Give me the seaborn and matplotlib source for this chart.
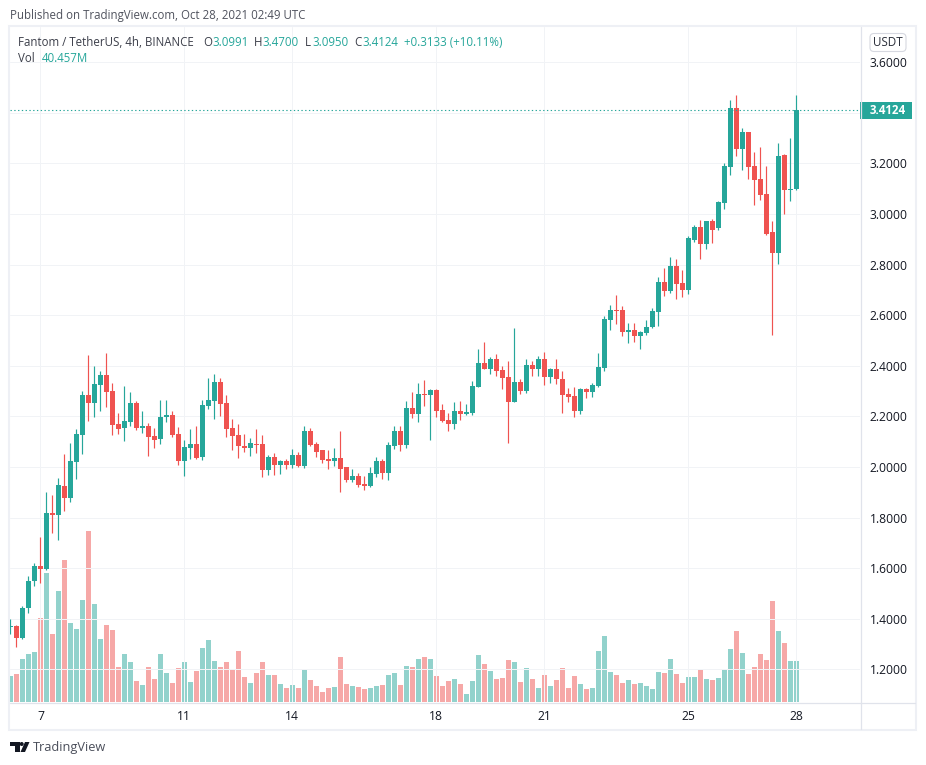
import matplotlib

matplotlib.use("Agg")
import matplotlib.pyplot as plt
import pandas as pd
import seaborn as sns
from matplotlib.patches import Circle, FancyBboxPatch, Polygon, Rectangle
from matplotlib.transforms import IdentityTransform


WIDTH = 926
HEIGHT = 765
UP = "#26a69a"
DOWN = "#ef5350"
TEXT = "#131722"
GRID = "#f1f3f6"
FRAME = "#e0e3eb"

opens = [
    1.368, 1.372, 1.322, 1.441, 1.548, 1.610, 1.598, 1.819, 1.811, 1.926, 1.876, 2.021,
    2.127, 2.285, 2.254, 2.325, 2.364, 2.301, 2.171, 2.155, 2.179, 2.254, 2.155, 2.163,
    2.123, 2.111, 2.198, 2.206, 2.131, 2.025, 2.076, 2.092, 2.040, 2.242, 2.262, 2.337,
    2.254, 2.155, 2.127, 2.084, 2.076, 2.092, 2.092, 1.989, 2.040, 2.009, 2.025, 2.009,
    2.048, 2.005, 2.143, 2.092, 2.068, 2.032, 2.025, 2.036, 2.001, 1.949, 1.965, 1.934,
    1.926, 1.973, 2.025, 1.977, 2.084, 2.143, 2.088, 2.234, 2.210, 2.289, 2.285, 2.305,
    2.226, 2.187, 2.171, 2.222, 2.210, 2.214, 2.317, 2.412, 2.388, 2.428, 2.384, 2.357,
    2.258, 2.337, 2.301, 2.404, 2.388, 2.428, 2.357, 2.388, 2.349, 2.289, 2.281, 2.222,
    2.309, 2.297, 2.321, 2.392, 2.582, 2.621, 2.621, 2.535, 2.543, 2.519, 2.531, 2.552,
    2.611, 2.733, 2.694, 2.793, 2.729, 2.698, 2.899, 2.947, 2.880, 2.974, 2.943, 3.042,
    3.188, 3.421, 3.259, 3.326, 3.192, 3.140, 3.081, 2.931, 2.848, 3.235, 3.095, 3.0991,
]
highs = [
    1.400, 1.376, 1.451, 1.570, 1.621, 1.725, 1.902, 1.890, 1.957, 2.052, 2.096, 2.151,
    2.301, 2.443, 2.400, 2.380, 2.451, 2.333, 2.214, 2.321, 2.297, 2.262, 2.222, 2.175,
    2.155, 2.266, 2.266, 2.222, 2.159, 2.108, 2.151, 2.163, 2.266, 2.353, 2.368, 2.353,
    2.285, 2.191, 2.171, 2.131, 2.115, 2.151, 2.127, 2.048, 2.056, 2.028, 2.032, 2.072,
    2.060, 2.163, 2.155, 2.100, 2.068, 2.068, 2.076, 2.143, 2.001, 1.993, 1.977, 1.965,
    2.001, 2.040, 2.032, 2.100, 2.163, 2.163, 2.262, 2.297, 2.333, 2.345, 2.309, 2.309,
    2.250, 2.214, 2.258, 2.262, 2.250, 2.341, 2.467, 2.495, 2.436, 2.447, 2.400, 2.420,
    2.550, 2.349, 2.428, 2.420, 2.440, 2.455, 2.392, 2.428, 2.380, 2.313, 2.317, 2.313,
    2.313, 2.333, 2.451, 2.598, 2.641, 2.681, 2.637, 2.570, 2.570, 2.539, 2.582, 2.627,
    2.753, 2.785, 2.832, 2.824, 2.777, 2.915, 2.955, 2.978, 2.974, 2.982, 3.053, 3.200,
    3.453, 3.472, 3.342, 3.326, 3.247, 3.267, 3.192, 2.974, 3.283, 3.239, 3.299, 3.4700,
]
lows = [
    1.341, 1.287, 1.318, 1.421, 1.528, 1.540, 1.594, 1.737, 1.710, 1.827, 1.860, 1.951,
    2.053, 2.180, 2.196, 2.223, 2.239, 2.125, 2.131, 2.104, 2.163, 2.147, 2.135, 2.044,
    2.076, 2.092, 2.179, 2.119, 2.009, 1.965, 2.032, 2.032, 2.028, 2.230, 2.191, 2.202,
    2.119, 2.068, 2.036, 2.060, 2.044, 2.056, 1.961, 1.969, 1.969, 1.973, 1.993, 1.997,
    2.001, 1.997, 2.084, 2.040, 2.017, 1.993, 2.005, 1.902, 1.942, 1.942, 1.922, 1.910,
    1.922, 1.961, 1.953, 1.949, 2.072, 2.064, 2.076, 2.194, 2.179, 2.242, 2.108, 2.198,
    2.179, 2.143, 2.151, 2.187, 2.206, 2.206, 2.317, 2.388, 2.368, 2.360, 2.309, 2.096,
    2.258, 2.289, 2.293, 2.360, 2.360, 2.325, 2.333, 2.329, 2.214, 2.258, 2.198, 2.210,
    2.274, 2.277, 2.317, 2.380, 2.541, 2.564, 2.519, 2.491, 2.495, 2.467, 2.523, 2.548,
    2.559, 2.678, 2.686, 2.666, 2.674, 2.682, 2.891, 2.824, 2.860, 2.884, 2.939, 3.022,
    3.156, 3.231, 3.176, 3.140, 3.034, 3.057, 2.919, 2.520, 2.804, 3.002, 3.053, 3.0950,
]
closes = [
    1.372, 1.322, 1.443, 1.550, 1.610, 1.598, 1.819, 1.811, 1.930, 1.876, 2.025, 2.131,
    2.285, 2.254, 2.329, 2.364, 2.297, 2.167, 2.151, 2.183, 2.254, 2.155, 2.163, 2.119,
    2.108, 2.198, 2.206, 2.127, 2.025, 2.080, 2.092, 2.036, 2.246, 2.266, 2.337, 2.250,
    2.151, 2.123, 2.084, 2.076, 2.096, 2.088, 1.989, 2.040, 2.009, 2.025, 2.009, 2.048,
    2.005, 2.143, 2.088, 2.060, 2.028, 2.025, 2.036, 1.993, 1.949, 1.965, 1.930, 1.926,
    1.977, 2.025, 1.977, 2.088, 2.143, 2.088, 2.234, 2.210, 2.289, 2.285, 2.305, 2.222,
    2.183, 2.171, 2.222, 2.210, 2.218, 2.321, 2.412, 2.388, 2.428, 2.380, 2.353, 2.258,
    2.337, 2.301, 2.404, 2.388, 2.428, 2.357, 2.388, 2.349, 2.285, 2.277, 2.222, 2.309,
    2.297, 2.325, 2.396, 2.586, 2.621, 2.617, 2.535, 2.543, 2.519, 2.535, 2.554, 2.615,
    2.733, 2.694, 2.793, 2.725, 2.698, 2.907, 2.947, 2.880, 2.974, 2.939, 3.046, 3.192,
    3.421, 3.259, 3.326, 3.188, 3.136, 3.077, 2.923, 2.848, 3.231, 3.097, 3.101, 3.4124,
]
volumes = [
    26, 28, 42, 47, 49, 83, 127, 67, 110, 140, 78, 72,
    101, 169, 97, 62, 76, 71, 35, 47, 39, 21, 17, 35,
    23, 47, 29, 19, 34, 39, 20, 31, 53, 61, 40, 35,
    39, 33, 50, 25, 19, 29, 39, 27, 27, 18, 14, 17,
    14, 33, 22, 16, 10, 14, 15, 44, 18, 16, 15, 13,
    14, 16, 17, 27, 29, 17, 36, 35, 42, 44, 42, 26,
    16, 21, 23, 18, 8, 21, 46, 38, 31, 23, 24, 41,
    39, 20, 34, 23, 14, 27, 16, 22, 34, 14, 26, 18,
    13, 14, 50, 65, 30, 27, 19, 22, 18, 19, 16, 13,
    30, 29, 42, 28, 19, 25, 25, 33, 23, 22, 24, 32,
    52, 70, 48, 28, 35, 47, 41, 100, 70, 58, 40, 40.457,
]
price_ticks = [1.2, 1.4, 1.6, 1.8, 2.0, 2.2, 2.4, 2.6, 2.8, 3.0, 3.2, 3.4, 3.6]
day_positions = [5, 29, 47, 71, 89, 113, 131]
day_labels = ["7", "11", "14", "18", "21", "25", "28"]
last_price = 3.4124


def px_x(x):
    return x / WIDTH


def px_y(y):
    return 1 - y / HEIGHT


def label(fig, x, y, text, color=TEXT, size=8.3, **kwargs):
    fig.text(px_x(x), px_y(y), text, color=color, fontsize=size, va="center", **kwargs)


def draw_bars(ax, frame, value, color, alpha=1.0, bottom=None):
    kwargs = {} if bottom is None else {"bottom": bottom}
    sns.barplot(
        data=frame,
        x="slot",
        y=value,
        color=color,
        saturation=1,
        native_scale=True,
        width=0.84,
        errorbar=None,
        alpha=alpha,
        linewidth=0,
        ax=ax,
        **kwargs,
    )


def draw_header(fig):
    label(fig, 10, 15, "Published on TradingView.com, Oct 28, 2021 02:49 UTC", color="#50535e")
    label(fig, 18, 42, "Fantom / TetherUS, 4h, BINANCE", color="#3c3f4a")
    for x, text in [(203, "O"), (254, "H"), (305, "L"), (354, "C")]:
        label(fig, x, 42, text, color="#3c3f4a")
    for x, text in [
        (212, "3.0991"),
        (262, "3.4700"),
        (312, "3.0950"),
        (362, "3.4124"),
        (404, "+0.3133 (+10.11%)"),
    ]:
        label(fig, x, 42, text, color=UP)
    label(fig, 18, 58, "Vol", color="#3c3f4a")
    label(fig, 41.5, 58, "40.457M", color=UP)


def draw_chrome(fig):
    screen = IdentityTransform()
    fig.add_artist(Rectangle((px_x(9), px_y(730)), px_x(907), 704 / HEIGHT, fill=False,
                             edgecolor="#eef0f5", linewidth=1.5, transform=fig.transFigure))
    for xs, ys in [((860.5, 860.5), (27, 729)), ((10, 915), (702.5, 702.5))]:
        fig.add_artist(plt.Line2D([px_x(v) for v in xs], [px_y(v) for v in ys],
                                  color=FRAME, linewidth=0.9, transform=fig.transFigure))

    # last price tag and currency button
    fig.add_artist(Rectangle((px_x(860), px_y(118.7)), 52 / WIDTH, 16.7 / HEIGHT, color=UP,
                             linewidth=0, transform=fig.transFigure))
    label(fig, 888, 110.5, f"{last_price:.4f}", color="white", ha="center", fontweight="bold")
    fig.add_artist(FancyBboxPatch((871, HEIGHT - 50.5), 34, 16, boxstyle="round,pad=1,rounding_size=4",
                                  facecolor="white", edgecolor="#d6d8e0", linewidth=0.8,
                                  transform=screen))
    label(fig, 888.3, 42.5, "USDT", ha="center", color="#2a2e39", size=8.4)

    # logo
    dark = "#131722"
    top = HEIGHT - 742
    fig.add_artist(Polygon([(10, top), (19.5, top), (19.5, top - 10), (15, top - 10), (15, top - 4), (10, top - 4)],
                           closed=True, color=dark, linewidth=0, transform=screen))
    fig.add_artist(Circle((21.7, top - 2), 2, color=dark, linewidth=0, transform=screen))
    fig.add_artist(Polygon([(25, top), (29.5, top), (25, top - 10), (20.5, top - 10)],
                           closed=True, color=dark, linewidth=0, transform=screen))


def main():
    sns.set_theme(style="white")
    plt.rcParams["font.family"] = ["Open Sans", "DejaVu Sans"]

    data = pd.DataFrame(
        {
            "open": opens,
            "high": highs,
            "low": lows,
            "close": closes,
            "volume": volumes,
        }
    )
    data["slot"] = data.index
    data["rising"] = data["close"] >= data["open"]
    data["body"] = (data["close"] - data["open"]).abs().clip(lower=0.004)
    data["base"] = data[["open", "close"]].min(axis=1)

    fig = plt.figure(figsize=(WIDTH / 100, HEIGHT / 100), dpi=100, facecolor="white")
    ax = fig.add_axes([px_x(10), px_y(702), 850 / WIDTH, 675 / HEIGHT])
    ax_vol = ax.twinx()
    ax.set_zorder(ax_vol.get_zorder() + 1)
    ax.patch.set_visible(False)

    rising = data[data["rising"]]
    falling = data[~data["rising"]]

    draw_bars(ax_vol, rising, "volume", UP, alpha=0.5)
    draw_bars(ax_vol, falling, "volume", DOWN, alpha=0.5)
    ax_vol.set_ylim(0, 675 / 1.013)
    ax_vol.set_yticks([])
    ax_vol.set_ylabel("")
    ax_vol.set_xlabel("")

    ax.set_axisbelow(True)
    ax.grid(True, color=GRID, linewidth=0.72)
    ax.vlines(rising["slot"], rising["low"], rising["high"], color=UP, linewidth=0.85)
    ax.vlines(falling["slot"], falling["low"], falling["high"], color=DOWN, linewidth=0.85)
    draw_bars(ax, rising, "body", UP, bottom=rising["base"].to_numpy())
    draw_bars(ax, falling, "body", DOWN, bottom=falling["base"].to_numpy())
    ax.axhline(last_price, color=UP, linewidth=0.8, linestyle=(0, (1.2, 2.2)))

    ax.set_xlim(-0.055, 141.6)
    ax.set_ylim(1.0707, 3.7397)
    ax.set_xticks(day_positions)
    ax.set_xticklabels(day_labels)
    # the 3.4000 label sits behind the last price tag in the original
    ax.set_yticks(price_ticks)
    ax.set_yticklabels(["" if tick == 3.4 else f"{tick:.4f}" for tick in price_ticks])
    ax.yaxis.tick_right()
    ax.tick_params(axis="y", length=0, pad=7, labelsize=8.7, labelcolor=TEXT)
    ax.tick_params(axis="x", length=0, pad=6, labelsize=8.7, labelcolor=TEXT)
    ax.set_xlabel("")
    ax.set_ylabel("")
    for axis in (ax, ax_vol):
        for spine in axis.spines.values():
            spine.set_visible(False)

    draw_chrome(fig)
    draw_header(fig)
    label(fig, 33, 747, "TradingView", color="#4a4e5a", size=9.2)

    fig.savefig("out.png", dpi=100, facecolor="white")
    plt.close(fig)


if __name__ == "__main__":
    main()
